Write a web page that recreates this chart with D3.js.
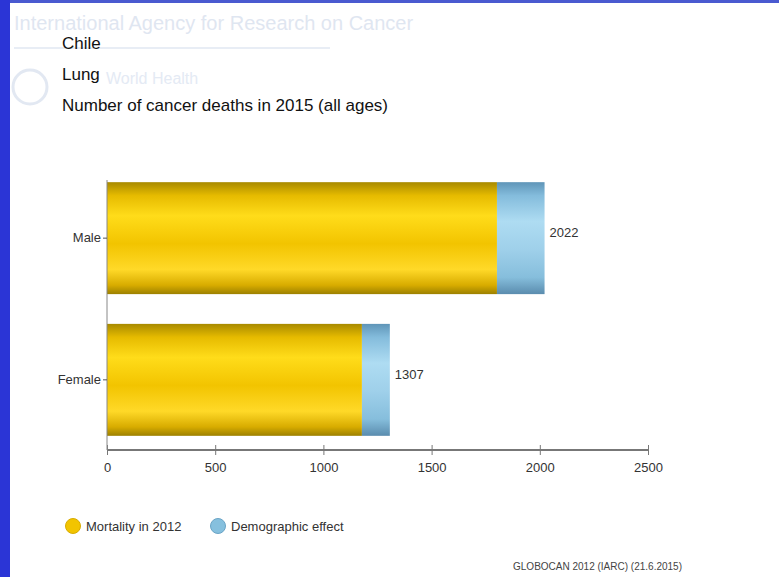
<!DOCTYPE html>
<html>
<head>
<meta charset="utf-8">
<script src="https://cdn.jsdelivr.net/npm/d3@7"></script>
<style>
  body { margin: 0; background: #fff; }
  svg { display: block; font-family: "Liberation Sans", Arial, sans-serif; }
</style>
</head>
<body>
<script>
// chart values
var categories = ["Male", "Female"];
var mortality2012 = [1802, 1178];
var demographic = [220, 129];
var totals = [2022, 1307];
var xTicks = [0, 500, 1000, 1500, 2000, 2500];
var titleLines = ["Chile", "Lung", "Number of cancer deaths in 2015 (all ages)"];
var legendLabels = ["Mortality in 2012", "Demographic effect"];

var W = 779, H = 577;

var svg = d3.select("body").append("svg")
  .attr("width", W)
  .attr("height", H);

var defs = svg.append("defs");

// vertical gradients for the bars
var gold = defs.append("linearGradient").attr("id", "gold")
  .attr("x1", 0).attr("y1", 0).attr("x2", 0).attr("y2", 1);
[[0, "#a88a00"], [0.12, "#e6bb00"], [0.3, "#ffdc1a"], [0.55, "#f2c400"], [0.78, "#ffd928"], [0.92, "#d8ac00"], [1, "#9c8000"]]
  .forEach(function (s) { gold.append("stop").attr("offset", s[0]).attr("stop-color", s[1]); });

var blue = defs.append("linearGradient").attr("id", "blue")
  .attr("x1", 0).attr("y1", 0).attr("x2", 0).attr("y2", 1);
[[0, "#5f95b8"], [0.12, "#84bcdc"], [0.35, "#aedcf2"], [0.6, "#9fd0ea"], [0.85, "#86bedc"], [1, "#5a8cae"]]
  .forEach(function (s) { blue.append("stop").attr("offset", s[0]).attr("stop-color", s[1]); });

// page frame: blue strip on the left and top
svg.append("rect").attr("x", 0).attr("y", 0).attr("width", W).attr("height", 3).attr("fill", "#4a5ad0");
svg.append("rect").attr("x", 0).attr("y", 0).attr("width", 10).attr("height", H).attr("fill", "#2b35d6");

// faint watermark behind the title
svg.append("text").attr("x", 14).attr("y", 30)
  .style("font-size", "20px").style("fill", "#dfe6f1")
  .text("International Agency for Research on Cancer");
svg.append("line").attr("x1", 14).attr("x2", 330).attr("y1", 48).attr("y2", 48)
  .style("stroke", "#e8edf5").style("stroke-width", 2);
svg.append("circle").attr("cx", 30).attr("cy", 87).attr("r", 17)
  .style("fill", "none").style("stroke", "#e2e8f2").style("stroke-width", 3);
svg.append("text").attr("x", 106).attr("y", 84)
  .style("font-size", "16px").style("fill", "#e4eaf4").text("World Health");

// title
svg.selectAll(".title").data(titleLines).enter().append("text")
  .attr("class", "title")
  .attr("x", 62)
  .attr("y", function (d, i) { return 49 + i * 31; })
  .style("font-size", "17px")
  .style("fill", "#111")
  .text(function (d) { return d; });

// scales
var x = d3.scaleLinear().domain([0, 2500]).range([107, 648]);
var y = d3.scaleBand().domain(categories).range([168, 450])
  .paddingInner(0.21).paddingOuter(0.1);

// bars
var rows = categories.map(function (c, i) {
  return { cat: c, m: mortality2012[i], d: demographic[i], t: totals[i] };
});

svg.selectAll(".bar-m").data(rows).enter().append("rect")
  .attr("class", "bar-m")
  .attr("x", x(0))
  .attr("y", function (d) { return y(d.cat); })
  .attr("width", function (d) { return x(d.m) - x(0); })
  .attr("height", y.bandwidth())
  .style("fill", "url(#gold)");

svg.selectAll(".bar-d").data(rows).enter().append("rect")
  .attr("class", "bar-d")
  .attr("x", function (d) { return x(d.m); })
  .attr("y", function (d) { return y(d.cat); })
  .attr("width", function (d) { return x(d.m + d.d) - x(d.m); })
  .attr("height", y.bandwidth())
  .style("fill", "url(#blue)");

// total labels
svg.selectAll(".val").data(rows).enter().append("text")
  .attr("class", "val")
  .attr("x", function (d) { return x(d.t) + 5; })
  .attr("y", function (d) { return y(d.cat) + y.bandwidth() / 2 - 1; })
  .style("font-size", "13px")
  .style("fill", "#333")
  .text(function (d) { return d.t; });

// axes
var xAxis = d3.axisBottom(x).tickValues(xTicks).tickSize(6).tickFormat(d3.format("d"));
var gx = svg.append("g")
  .attr("transform", "translate(0,450)")
  .call(xAxis);
gx.select(".domain").attr("d", "M" + x(0) + ",0H" + x(2500)).style("stroke", "#777").style("stroke-width", 2);
gx.selectAll(".tick line").style("stroke", "#777").attr("y1", -5).attr("y2", 5);
gx.selectAll(".tick text").attr("y", 13).style("font-size", "13px").style("fill", "#333");

var yAxis = d3.axisLeft(y).tickSize(4).tickPadding(2);
var gy = svg.append("g")
  .attr("transform", "translate(" + x(0) + ",0)")
  .call(yAxis);
gy.select(".domain").attr("d", "M0,180V450").style("stroke", "#888");
gy.selectAll(".tick line").style("stroke", "#555");
gy.selectAll(".tick text").style("font-size", "13px").style("fill", "#333");

// legend
var legend = svg.selectAll(".legend").data(legendLabels).enter().append("g")
  .attr("class", "legend")
  .attr("transform", function (d, i) { return "translate(" + (73 + i * 145) + ",526)"; });
legend.append("circle").attr("r", 7.5)
  .style("fill", function (d, i) { return i === 0 ? "#f2c400" : "#86c0de"; })
  .style("stroke", function (d, i) { return i === 0 ? "#d8ac00" : "#6aa4c6"; });
legend.append("text").attr("x", 13).attr("y", 5)
  .style("font-size", "13px").style("fill", "#333")
  .text(function (d) { return d; });

// source note
svg.append("text").attr("x", 682).attr("y", 570)
  .attr("text-anchor", "end")
  .style("font-size", "10px").style("fill", "#444")
  .text("GLOBOCAN 2012 (IARC) (21.6.2015)");
</script>
</body>
</html>
